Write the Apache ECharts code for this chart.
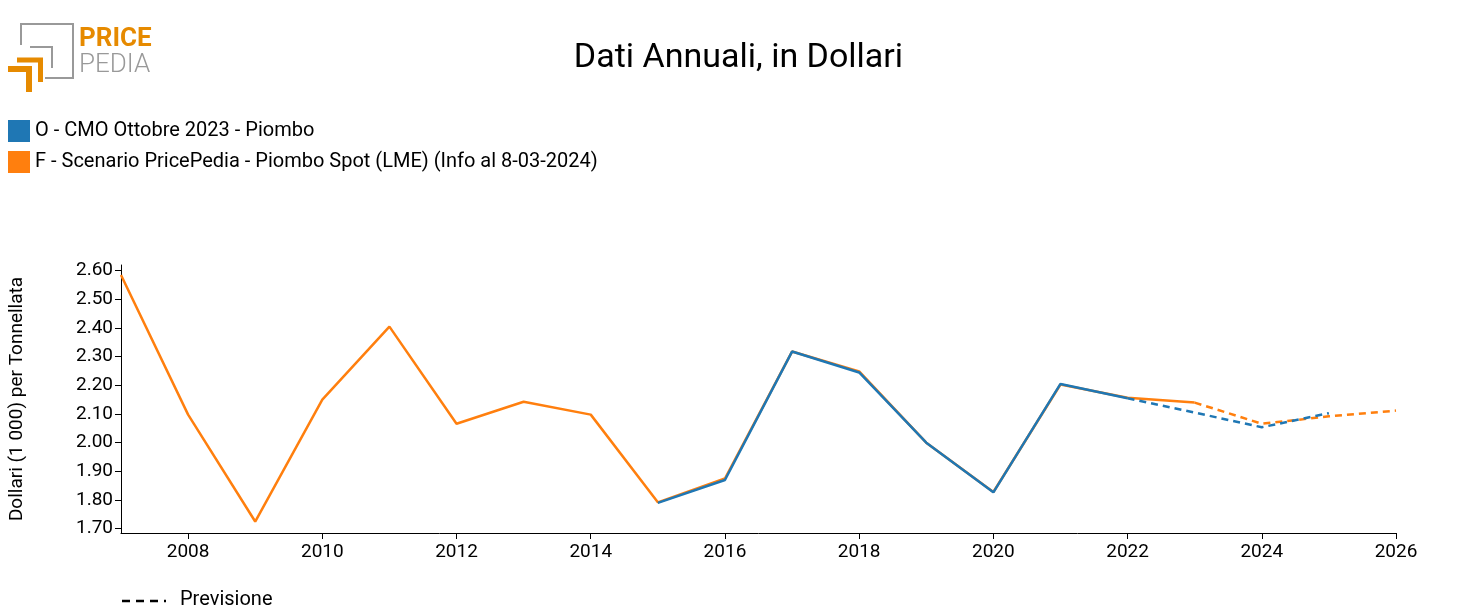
<!DOCTYPE html>
<html>
<head>
<meta charset="utf-8">
<script src="https://cdn.jsdelivr.net/npm/echarts@6/dist/echarts.min.js"></script>
<style>html,body{margin:0;padding:0;background:#fff}#chart{width:1477px;height:615px}</style>
</head>
<body>
<div id="chart"></div>
<script>
const years = [2007, 2008, 2009, 2010, 2011, 2012, 2013, 2014, 2015, 2016, 2017, 2018, 2019, 2020, 2021, 2022, 2023, 2024, 2025, 2026];
const scenario = [2.585, 2.098, 1.725, 2.15, 2.405, 2.066, 2.143, 2.098, 1.792, 1.875, 2.318, 2.249, 2.0, 1.828, 2.203, 2.157, 2.14, 2.066, 2.092, 2.112];
const cmoYears = [2015, 2016, 2017, 2018, 2019, 2020, 2021, 2022, 2023, 2024, 2025];
const cmo = [1.79, 1.87, 2.318, 2.245, 2.0, 1.827, 2.205, 2.155, 2.105, 2.054, 2.103];
const yTicks = [1.7, 1.8, 1.9, 2.0, 2.1, 2.2, 2.3, 2.4, 2.5, 2.6];
const xTicks = [2008, 2010, 2012, 2014, 2016, 2018, 2020, 2022, 2024, 2026];
const blue = '#1f77b4', orange = '#ff7f0e';
const font = 'Roboto';

const pairs = (xs, ys) => xs.map((x, i) => [x, ys[i]]);
const split = (xs, ys, lastSolid) => ({
  solid: pairs(xs, ys).filter(p => p[0] <= lastSolid),
  dashed: pairs(xs, ys).filter(p => p[0] >= lastSolid)
});
const sc = split(years, scenario, 2023);
const cm = split(cmoYears, cmo, 2022);

const line = (data, color, dashed) => ({
  type: 'line', data, symbol: 'none', silent: true,
  lineStyle: { color, width: 2.5, type: dashed ? [7, 5] : 'solid' }
});

const chart = echarts.init(document.getElementById('chart'));
chart.setOption({
  animation: false,
  textStyle: { fontFamily: font },
  title: {
    text: 'Dati Annuali, in Dollari', left: 'center', top: 36,
    textStyle: { fontFamily: font, fontSize: 34, fontWeight: 'normal', color: '#000' }
  },
  grid: { left: 120, right: 81, top: 265, bottom: 82 },
  xAxis: {
    type: 'value', min: 2007, max: 2026,
    axisLine: { lineStyle: { color: '#000' } },
    axisTick: { customValues: xTicks, length: 6, lineStyle: { color: '#000' } },
    axisLabel: { customValues: xTicks, color: '#000', fontSize: 19, margin: 10, formatter: v => String(v) },
    splitLine: { show: false }
  },
  yAxis: {
    type: 'value', min: 1.685, max: 2.62,
    name: 'Dollari (1 000) per Tonnellata', nameLocation: 'middle', nameGap: 94,
    nameTextStyle: { fontSize: 19, color: '#000' },
    axisLine: { show: true, lineStyle: { color: '#000' } },
    axisTick: { show: true, customValues: yTicks, length: 6, lineStyle: { color: '#000' } },
    axisLabel: { customValues: yTicks, color: '#000', fontSize: 19, formatter: v => v.toFixed(2) },
    splitLine: { show: false }
  },
  series: [
    line(sc.solid, orange, false), line(sc.dashed, orange, true),
    line(cm.solid, blue, false), line(cm.dashed, blue, true)
  ],
  graphic: [
    { type: 'rect', shape: { x: 8, y: 120, width: 22, height: 22 }, style: { fill: blue } },
    { type: 'text', x: 35, y: 121, style: { text: 'O - CMO Ottobre 2023 - Piombo', fontSize: 20, fontFamily: font, fill: '#000' } },
    { type: 'rect', shape: { x: 8, y: 151, width: 22, height: 22 }, style: { fill: orange } },
    { type: 'text', x: 35, y: 152, style: { text: 'F - Scenario PricePedia - Piombo Spot (LME) (Info al 8-03-2024)', fontSize: 20, fontFamily: font, fill: '#000' } },
    { type: 'line', shape: { x1: 122, y1: 601, x2: 166, y2: 601 }, style: { stroke: '#000', lineWidth: 2.5, lineDash: [8, 6] } },
    { type: 'text', x: 180, y: 590, style: { text: 'Previsione', fontSize: 20, fontFamily: font, fill: '#000' } },
    // logo
    { type: 'polyline', shape: { points: [[21, 45], [21, 24], [73, 24], [73, 78], [45, 78]] }, style: { fill: 'none', stroke: '#999', lineWidth: 2 } },
    { type: 'polyline', shape: { points: [[30, 47], [52, 47], [52, 68]] }, style: { fill: 'none', stroke: '#999', lineWidth: 2 } },
    { type: 'polyline', shape: { points: [[17, 60], [40.5, 60], [40.5, 82]] }, style: { fill: 'none', stroke: '#e68a00', lineWidth: 5 } },
    { type: 'polyline', shape: { points: [[8, 69], [29, 69], [29, 92]] }, style: { fill: 'none', stroke: '#e68a00', lineWidth: 6 } },
    { type: 'text', x: 79, y: 26, style: { text: 'PRICE', fontSize: 26, fontWeight: 'bold', fontFamily: font, fill: '#e68a00' } },
    { type: 'text', x: 79, y: 52, style: { text: 'PEDIA', fontSize: 26, fontWeight: 300, fontFamily: font, fill: '#999' } }
  ]
});
</script>
</body>
</html>
